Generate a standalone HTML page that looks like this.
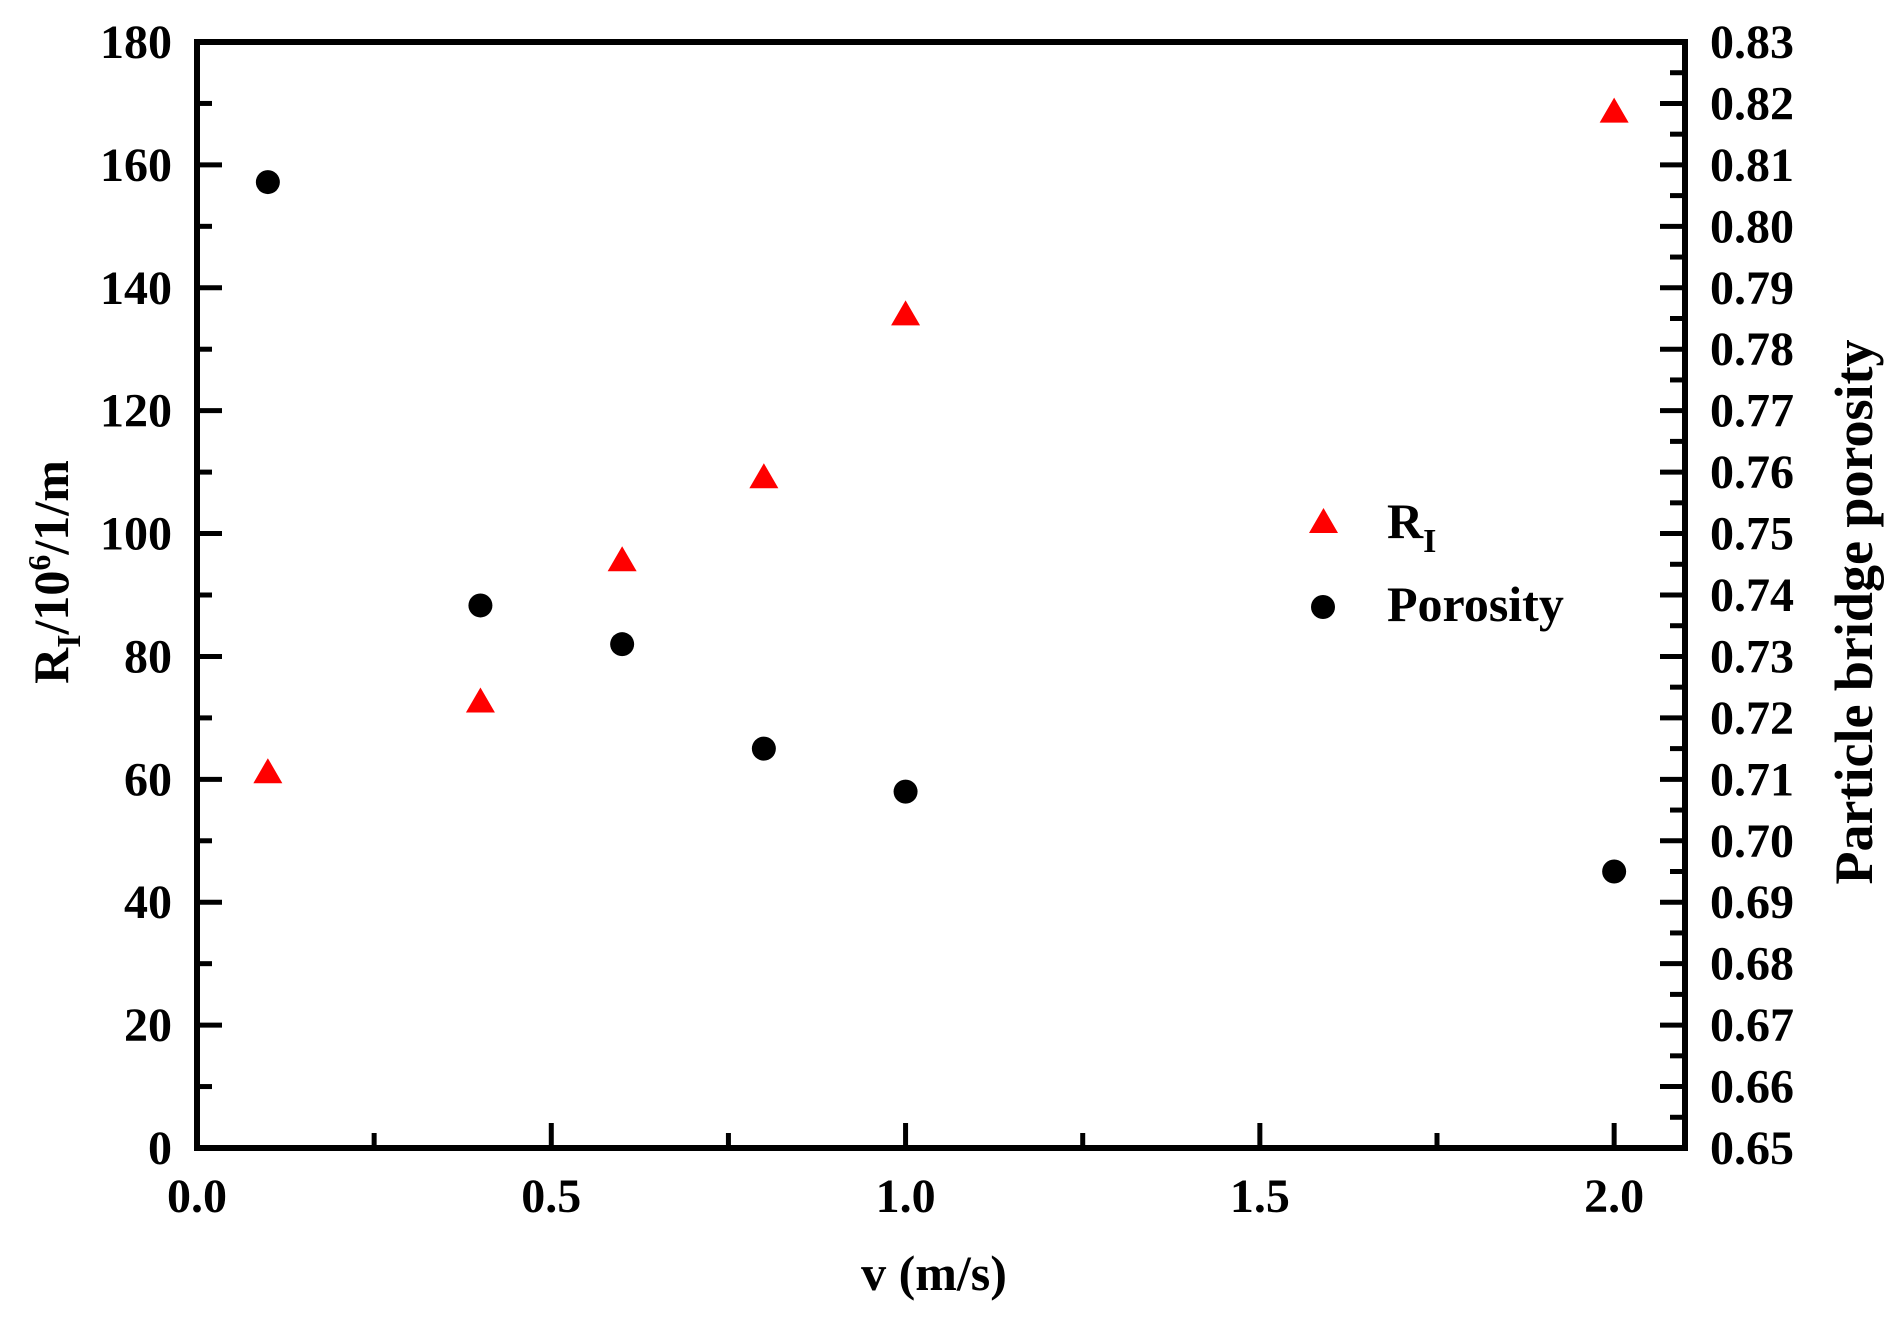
<!DOCTYPE html>
<html><head><meta charset="utf-8"><style>html,body{margin:0;padding:0;background:#fff}svg{display:block}</style></head>
<body>
<svg width="1903" height="1324" viewBox="0 0 1903 1324" xmlns="http://www.w3.org/2000/svg" font-family="'Liberation Serif', serif" font-weight="bold">
<rect width="1903" height="1324" fill="#fff"/>
<g id="ticks" stroke="#000" stroke-width="5"></g>
<rect x="197" y="42" width="1488" height="1106" fill="none" stroke="#000" stroke-width="6"/>
<g id="labels" font-size="48" fill="#000"></g>
<g id="pts"></g>
<text x="68" y="572" font-size="50" text-anchor="middle" transform="rotate(-90 68 572)">R<tspan font-size="34" dy="12">I</tspan><tspan dy="-12">/10</tspan><tspan font-size="32" dy="-18">6</tspan><tspan dy="18">/1/m</tspan></text>
<text x="1872" y="612" font-size="54" text-anchor="middle" transform="rotate(-90 1872 612)">Particle bridge porosity</text>
<text x="934" y="1290" font-size="50" text-anchor="middle">v (m/s)</text>
<polygon points="1309,533 1338,533 1323.5,508" fill="#f00"/>
<text x="1387" y="538" font-size="50">R<tspan font-size="34" dy="14">I</tspan></text>
<circle cx="1323" cy="607" r="12" fill="#000"/>
<text x="1387" y="621" font-size="50">Porosity</text>
<script>
(function(){
var ns="http://www.w3.org/2000/svg";
var T=document.getElementById("ticks"),L=document.getElementById("labels"),P=document.getElementById("pts");
function el(p,n,a,t){var e=document.createElementNS(ns,n);for(var k in a)e.setAttribute(k,a[k]);if(t!==undefined)e.textContent=t;p.appendChild(e);return e;}
var x0=197,x1=1685,y0=1148,y1=42;
function X(v){return x0+v/2.1*(x1-x0);}
function Y(v){return y0-v/180*(y0-y1);}
for(var v=0;v<=180;v+=10){var y=Y(v),maj=v%20==0;
 el(T,"line",{x1:x0,y1:y,x2:x0+(maj?25:15),y2:y});
 if(maj)el(L,"text",{x:172,y:y+16,"text-anchor":"end"},String(v));}
for(var i=0;i<=36;i++){var y=Y(i*5),maj=i%2==0;
 el(T,"line",{x1:x1,y1:y,x2:x1-(maj?25:15),y2:y});
 if(maj)el(L,"text",{x:1710,y:y+16},(0.65+i*0.005).toFixed(2));}
for(var i=0;i<=8;i++){var x=X(i*0.25),maj=i%2==0;
 el(T,"line",{x1:x,y1:y0,x2:x,y2:y0-(maj?25:15)});
 if(maj)el(L,"text",{x:x,y:1212,"text-anchor":"middle"},(i*0.25).toFixed(1));}
var R=[[0.1,61],[0.4,72.5],[0.6,95.5],[0.8,109],[1.0,135.5],[2.0,168.5]];
var Po=[[0.1,157.2],[0.4,88.3],[0.6,82],[0.8,65],[1.0,58],[2.0,45]];
R.forEach(function(d){var x=X(d[0]),y=Y(d[1]);el(P,"polygon",{points:(x-14.5)+","+(y+10)+" "+(x+14.5)+","+(y+10)+" "+x+","+(y-15),fill:"#f00"});});
Po.forEach(function(d){el(P,"circle",{cx:X(d[0]),cy:Y(d[1]),r:12,fill:"#000"});});
})();
</script>
</svg>
</body></html>
